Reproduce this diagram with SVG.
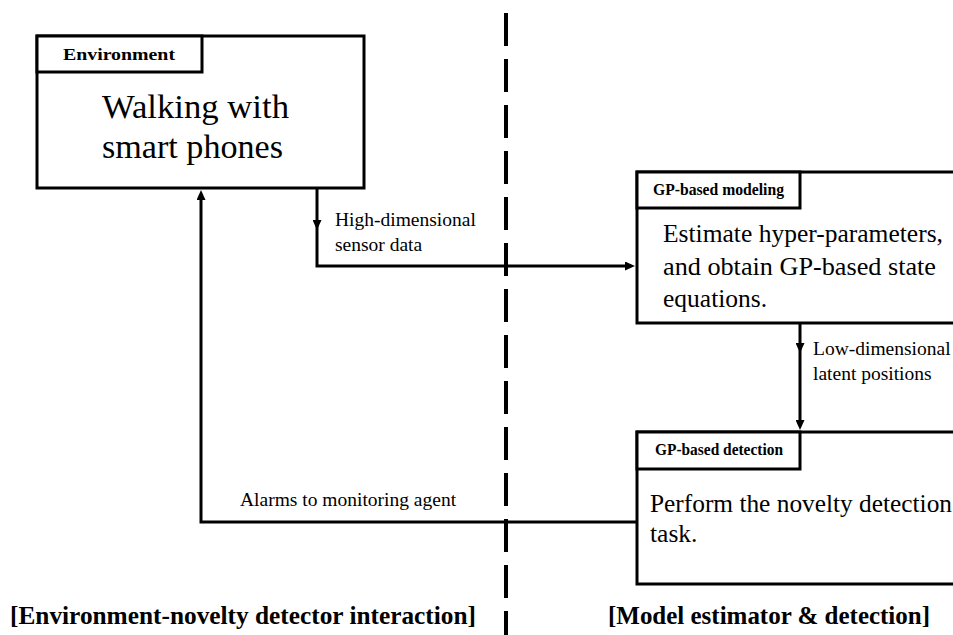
<svg xmlns="http://www.w3.org/2000/svg" width="953" height="635" viewBox="0 0 953 635" font-family="'Liberation Serif', 'DejaVu Serif', serif">
<style>
  .box { fill: #ffffff; stroke: #000000; stroke-width: 3; }
  .tab { fill: #ffffff; stroke: #000000; stroke-width: 3; }
  .conn { fill: none; stroke: #000000; stroke-width: 3; }
  .divider { fill: none; stroke: #000000; stroke-width: 4; stroke-dasharray: 33 13; }
  .title { font-family: "Liberation Serif", "DejaVu Serif", serif; font-size: 17px; font-weight: bold; fill: #000000; }
  .big { font-family: "Liberation Serif", "DejaVu Serif", serif; font-size: 33px; fill: #000000; }
  .body { font-family: "Liberation Serif", "DejaVu Serif", serif; font-size: 25.5px; fill: #000000; }
  .label { font-family: "Liberation Serif", "DejaVu Serif", serif; font-size: 19.5px; fill: #000000; }
  .section { font-family: "Liberation Serif", "DejaVu Serif", serif; font-size: 25px; font-weight: bold; fill: #000000; }
</style>
<defs>
  <marker id="arrow" viewBox="0 0 10 9" refX="6" refY="4.5" markerWidth="10" markerHeight="9" markerUnits="userSpaceOnUse" orient="auto">
    <path d="M0,0 L10,4.5 L0,9 z" fill="#000000"/>
  </marker>
</defs>
<rect width="953" height="635" fill="#ffffff"/>

<line class="divider" x1="506" y1="13" x2="506" y2="640"/>

<g id="connectors">
  <path class="conn" d="M317,189 V226" marker-end="url(#arrow)"/>
  <path class="conn" d="M317,225 V266 H631" marker-end="url(#arrow)"/>
  <path class="conn" d="M800,324 V349" marker-end="url(#arrow)"/>
  <path class="conn" d="M800,348 V426" marker-end="url(#arrow)"/>
  <path class="conn" d="M637,522 H201 V194" marker-end="url(#arrow)"/>
  <text class="label" x="335" y="226">High-dimensional</text>
  <text class="label" x="335" y="251">sensor data</text>
  <text class="label" x="813" y="355">Low-dimensional</text>
  <text class="label" x="813" y="380">latent positions</text>
  <text class="label" x="240" y="506">Alarms to monitoring agent</text>
</g>

<g id="environment">
  <rect class="box" x="37" y="36" width="327" height="152"/>
  <rect class="tab" x="37" y="36" width="165" height="36"/>
  <text class="title" x="63" y="60" textLength="112" lengthAdjust="spacingAndGlyphs">Environment</text>
  <text class="big" x="102" y="118" textLength="187" lengthAdjust="spacingAndGlyphs">Walking with</text>
  <text class="big" x="102" y="158" textLength="181" lengthAdjust="spacingAndGlyphs">smart phones</text>
</g>

<g id="gp-modeling">
  <rect class="box" x="637" y="172" width="330" height="151"/>
  <rect class="tab" x="637" y="172" width="163" height="36"/>
  <text class="title" x="653" y="195" textLength="131" lengthAdjust="spacingAndGlyphs">GP-based modeling</text>
  <text class="body" x="663" y="242" textLength="280" lengthAdjust="spacingAndGlyphs">Estimate hyper-parameters,</text>
  <text class="body" x="663" y="275" textLength="273" lengthAdjust="spacingAndGlyphs">and obtain GP-based state</text>
  <text class="body" x="663" y="307">equations.</text>
</g>

<g id="gp-detection">
  <rect class="box" x="637" y="432" width="330" height="152"/>
  <rect class="tab" x="637" y="432" width="163" height="37"/>
  <text class="title" x="655" y="455" textLength="128" lengthAdjust="spacingAndGlyphs">GP-based detection</text>
  <text class="body" x="650" y="512" textLength="302" lengthAdjust="spacingAndGlyphs">Perform the novelty detection</text>
  <text class="body" x="650" y="542">task.</text>
</g>

<g id="section-labels">
  <text class="section" x="10" y="624" textLength="466" lengthAdjust="spacingAndGlyphs">[Environment-novelty detector interaction]</text>
  <text class="section" x="608" y="624" textLength="322" lengthAdjust="spacingAndGlyphs">[Model estimator &amp; detection]</text>
</g>
</svg>
